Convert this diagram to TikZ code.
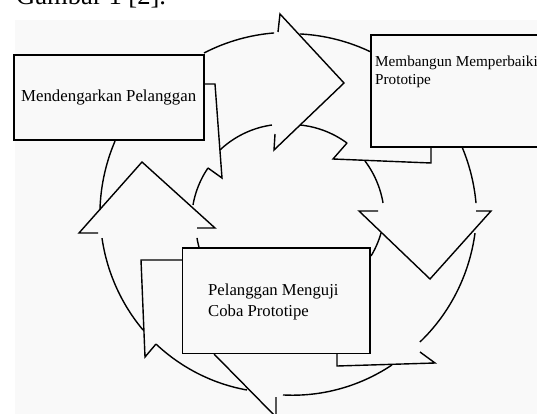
\documentclass[tikz,border=0pt]{standalone}
\usepackage{fontspec}
\setmainfont{Liberation Serif}
\definecolor{bgc}{gray}{0.975}
\newcommand\ringarc[4]{\draw[ln] plot[domain=#1:#2, samples=40, variable=\t] ({287+(#3+(#4-#3)*(\t-(#1))/((#2)-(#1)))*cos(\t)}, {218+(#3+(#4-#3)*(\t-(#1))/((#2)-(#1)))*sin(\t)});}
\begin{document}
\begin{tikzpicture}[x=1pt,y=-1pt,
  ln/.style={draw=black, line width=1.4pt, line join=miter, line cap=butt},
  boxst/.style={draw=black, line width=1.4pt, fill=bgc, inner sep=0pt, outer sep=0pt},
  txt/.style={inner sep=0pt, anchor=base west, text=black}]
\useasboundingbox (0,0) rectangle (537,414);
\clip (0,0) rectangle (537,414);
\fill[white] (0,0) rectangle (537,414);
\fill[bgc] (15,20) rectangle (537,414);
\node[txt, font=\fontsize{26.6}{30}\selectfont] (title) at (16,5) {Gambar 1 [2].};

% outer arcs
\ringarc{-116.7}{-94.0}{184.7}{185.5}
\ringarc{-86.0}{-63.2}{184.5}{186.0}
\ringarc{-22.1}{-4.5}{188.9}{189.6}
\ringarc{4.6}{43.0}{188.6}{181.8}
\ringarc{54.5}{91.3}{180.6}{177.0}
\ringarc{103.1}{136.1}{176.6}{181.8}
\ringarc{142.1}{173.8}{182.4}{186.1}
\ringarc{182.4}{204.1}{187.2}{188.4}
% inner arcs
\ringarc{-134.6}{-99.2}{95.5}{94.2}
\ringarc{-82.0}{-51.3}{93.9}{96.0}
\ringarc{-36.2}{-8.9}{96.6}{97.2}
\ringarc{9.1}{24.3}{95.2}{92.2}
\ringarc{161.8}{167.5}{92.7}{92.2}
\ringarc{187.9}{212.3}{94.9}{93.5}

% arrow heads
\draw[ln] (278,32) -- (280,14) -- (344,83) -- (274,150) -- (275,134);
\draw[ln] (476,211) -- (491,211) -- (430,279) -- (359,211) -- (378,211);
\draw[ln] (276,397) -- (276,417) -- (214,354);
\draw[ln] (98,233) -- (79,233) -- (142,162) -- (215,228) -- (197,228);

% tails behind the boxes
\draw[ln] (204,84) -- (215,84) -- (222,178) -- (208,168);
\draw[ln] (347,143) -- (333,159) -- (431,163) -- (431,147);
\draw[ln] (183,260) -- (141,260) -- (145,357) -- (156,344);
\draw[ln] (337,354) -- (337,366) -- (435,363) -- (420,352);

% boxes
\node[boxst, minimum width=190pt, minimum height=85pt] (b1) at (109,97.5) {};
\draw[line width=2.8pt] (b1.north west) -- (b1.south west);
\node[boxst, minimum width=189pt, minimum height=112pt] (b2) at (465.5,91) {};
\node[boxst, minimum width=187.5pt, minimum height=105.5pt] (b3) at (276.25,300.75) {};

% texts
\node[txt, font=\fontsize{16.8}{20}\selectfont] (t1) at (21,102) {Mendengarkan Pelanggan};
\node[txt, font=\fontsize{15.2}{18}\selectfont] (t2a) at (375,67) {Membangun Memperbaiki};
\node[txt, font=\fontsize{15.2}{18}\selectfont] (t2b) at (375,85) {Prototipe};
\node[txt, font=\fontsize{16.7}{20}\selectfont] (t3a) at (208,295) {Pelanggan Menguji};
\node[txt, font=\fontsize{16.7}{20}\selectfont] (t3b) at (208,316) {Coba Prototipe};
\end{tikzpicture}
\end{document}
